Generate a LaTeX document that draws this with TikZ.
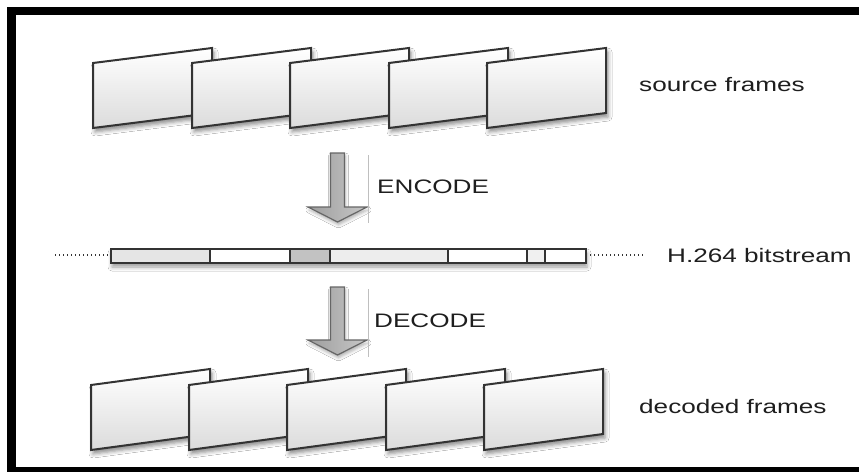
\documentclass[tikz,border=0pt]{standalone}
\usepackage{fontspec}
\newfontfamily\lblfont{Liberation Sans}[FakeStretch=1.34]
\usetikzlibrary{shadows.blur}
\definecolor{edgegray}{HTML}{333333}
\definecolor{txtgray}{HTML}{1E1E1E}
\begin{document}
\begin{tikzpicture}[x=1pt,y=-1pt,
  frm/.style={draw=edgegray, line width=2pt, line join=miter, top color=white, bottom color=black!14,
    blur shadow={shadow xshift=2pt, shadow yshift=-4pt, shadow blur radius=4pt, shadow opacity=45}},
  arr/.style={draw=black!60, line width=1.2pt, left color=black!38, right color=black!22,
    blur shadow={shadow xshift=1pt, shadow yshift=-3pt, shadow blur radius=3pt, shadow opacity=30}},
  sep/.style={draw=black!25, line width=0.8pt},
  seg/.style={draw=edgegray, line width=1.6pt},
  dots/.style={draw=edgegray, line width=1.3pt, dash pattern=on 1.4pt off 2.6pt},
  lbl/.style={font=\lblfont\fontsize{19.5}{22}\selectfont, text=txtgray, inner sep=0pt}]
\useasboundingbox (0,0) rectangle (859,472);
\fill[white] (0,0) rectangle (859,472);
% border
\fill[black] (7,7) rectangle (859,15);
\fill[black] (7,7) rectangle (16,472);
\fill[black] (7,467) rectangle (859,472);
% source frames
\foreach \x in {93,192,290,389,487}
  \path[frm] (\x,63) -- ++(119,-15) -- ++(0,65) -- ++(-119,15) -- cycle;
% decoded frames
\foreach \x in {91,189,287,386,484}
  \path[frm] (\x,385) -- ++(119,-16) -- ++(0,65) -- ++(-119,16) -- cycle;
% encode arrow
\path[arr] (330.5,153) -- (344.5,153) -- (344.5,207) -- (367,207) -- (337.5,222) -- (308,207) -- (330.5,207) -- cycle;
\draw[sep] (368,155) -- (368,223);
% decode arrow
\path[arr] (330.5,287) -- (344.5,287) -- (344.5,340) -- (367,340) -- (337.5,355) -- (308,340) -- (330.5,340) -- cycle;
\draw[sep] (368,289) -- (368,357);
% bitstream
\path[blur shadow={shadow xshift=1pt, shadow yshift=-4pt, shadow blur radius=4pt, shadow opacity=40}, fill=white] (111,249) rectangle (586,263);
\path[seg, fill=black!10] (111,249) rectangle (210,263);
\path[seg, fill=white] (210,249) rectangle (290,263);
\path[seg, fill=black!24] (290,249) rectangle (330,263);
\path[seg, fill=black!7] (330,249) rectangle (448,263);
\path[seg, fill=white] (448,249) rectangle (527,263);
\path[seg, fill=black!6] (527,249) rectangle (545,263);
\path[seg, fill=white] (545,249) rectangle (586,263);
\coordinate (bsl) at (111,255);
\coordinate (bsr) at (586,255);
\coordinate (dl) at (55,255);
\coordinate (dr) at (643,255);
\draw[dots] (dl) -- (bsl);
\draw[dots] (bsr) -- (dr);
% labels
\node[lbl, anchor=base west] (src) at (639,91) {source frames};
\node[lbl, anchor=base west] (enc) at (377,193) {ENCODE};
\node[lbl, anchor=base west] (bits) at (667,262) {H.264 bitstream};
\node[lbl, anchor=base west] (dec) at (374,327) {DECODE};
\node[lbl, anchor=base west] (dcd) at (639,413) {decoded frames};
\end{tikzpicture}
\end{document}
